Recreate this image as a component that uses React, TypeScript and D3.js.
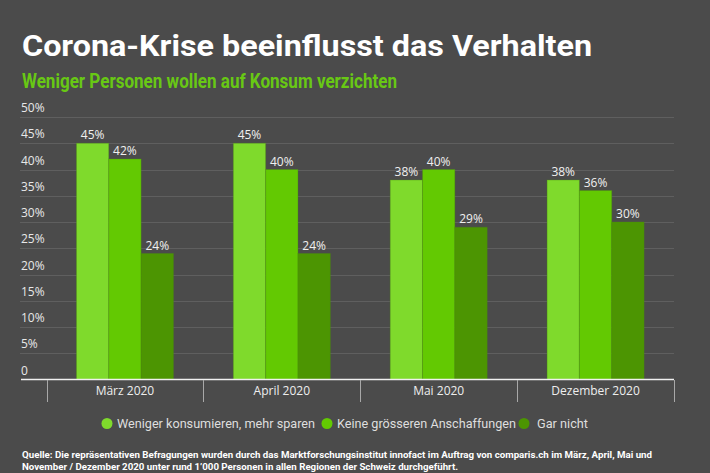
import React from "react";
import * as d3 from "d3";

const categories = ["März 2020", "April 2020", "Mai 2020", "Dezember 2020"];
const seriesNames = ["Weniger konsumieren, mehr sparen", "Keine grösseren Anschaffungen", "Gar nicht"];
const seriesWeniger = [45, 45, 38, 38];
const seriesKeine = [42, 40, 40, 36];
const seriesGar = [24, 24, 29, 30];
const yTicks = [0, 5, 10, 15, 20, 25, 30, 35, 40, 45, 50];
const colors = ["#7fda2c", "#63c902", "#4c9502"];
const title = "Corona-Krise beeinflusst das Verhalten";
const subtitle = "Weniger Personen wollen auf Konsum verzichten";
const footer1 = "Quelle: Die repräsentativen Befragungen wurden durch das Marktforschungsinstitut innofact im Auftrag von comparis.ch im März, April, Mai und";
const footer2 = "November / Dezember 2020 unter rund 1’000 Personen in allen Regionen der Schweiz durchgeführt.";

const W = 710, H = 473;
const BG = "#4b4b4b";

export default function App() {
  const series = [seriesWeniger, seriesKeine, seriesGar];
  const y = d3.scaleLinear().domain([0, 50]).range([379.5, 117]);
  const x0 = d3.scaleBand<string>().domain(categories).range([46.5, 674]).padding(0);
  const bw = x0.bandwidth();
  const groupW = 97;
  const x1 = d3.scaleBand<number>().domain([0, 1, 2]).range([(bw - groupW) / 2, (bw + groupW) / 2]).padding(0);
  const font = "'Open Sans', 'DejaVu Sans', sans-serif";
  const legendCx = [107, 327, 524];
  const legendTx = [117, 337, 537];
  const legendW = [198, 179, 51];
  return (
    <div style={{ position: "absolute", left: 0, top: 0 }}>
      <svg width={W} height={H} style={{ display: "block" }}>
        <rect x={0} y={0} width={W} height={H} fill={BG} />
        <text x={22} y={55.5} fill="#ffffff" fontFamily="Roboto, sans-serif" fontWeight={700} fontSize={29} textLength={570} lengthAdjust="spacingAndGlyphs">{title}</text>
        <text x={22} y={87.5} fill="#68c814" fontFamily="Roboto, sans-serif" fontWeight={700} fontSize={20.5} textLength={375} lengthAdjust="spacingAndGlyphs">{subtitle}</text>
        {yTicks.map((t) => (
          <g key={t}>
            {t > 0 && <line x1={20} x2={674} y1={Math.round(y(t)) + 0.5} y2={Math.round(y(t)) + 0.5} stroke="#5f5f5f" strokeWidth={1} />}
            <text x={21} y={y(t) - 5} fill="#e8e8e8" fontFamily={font} fontSize={12}>{t === 0 ? "0" : `${t}%`}</text>
          </g>
        ))}
        {categories.map((c, i) => (
          <g key={c} transform={`translate(${x0(c)},0)`}>
            {series.map((s, j) => (
              <g key={j}>
                <rect x={x1(j)!} y={y(s[i])} width={x1.bandwidth()} height={y(0) - y(s[i])} fill={colors[j]} stroke="#4a8a10" strokeOpacity={0.35} strokeWidth={1} />
                <text x={x1(j)! + x1.bandwidth() / 2} y={y(s[i]) - 4} textAnchor="middle" fill="#f0f0f0" fontFamily={font} fontSize={12}>{`${s[i]}%`}</text>
              </g>
            ))}
            <text x={bw / 2} y={395} textAnchor="middle" fill="#eeeeee" fontFamily={font} fontSize={12}>{c}</text>
          </g>
        ))}
        <line x1={21} x2={674} y1={379.5} y2={379.5} stroke="#f0f0f0" strokeWidth={1.5} />
        {[...categories.map((c) => x0(c)!), 674].map((xv, i) => (
          <line key={i} x1={Math.round(xv) + 0.5} x2={Math.round(xv) + 0.5} y1={380} y2={402} stroke="#a8a8a8" strokeWidth={1} />
        ))}
        {seriesNames.map((n, j) => (
          <g key={n}>
            <circle cx={legendCx[j]} cy={423.5} r={5.5} fill={colors[j]} />
            <text x={legendTx[j]} y={428} fill="#dedede" fontFamily="Roboto, sans-serif" fontSize={13} textLength={legendW[j]} lengthAdjust="spacingAndGlyphs">{n}</text>
          </g>
        ))}
        <text x={22} y={458} fill="#ffffff" fontFamily="Roboto, sans-serif" fontWeight={700} fontSize={9.5} textLength={630} lengthAdjust="spacingAndGlyphs">{footer1}</text>
        <text x={22} y={470} fill="#ffffff" fontFamily="Roboto, sans-serif" fontWeight={700} fontSize={9.5} textLength={436} lengthAdjust="spacingAndGlyphs">{footer2}</text>
      </svg>
    </div>
  );
}
